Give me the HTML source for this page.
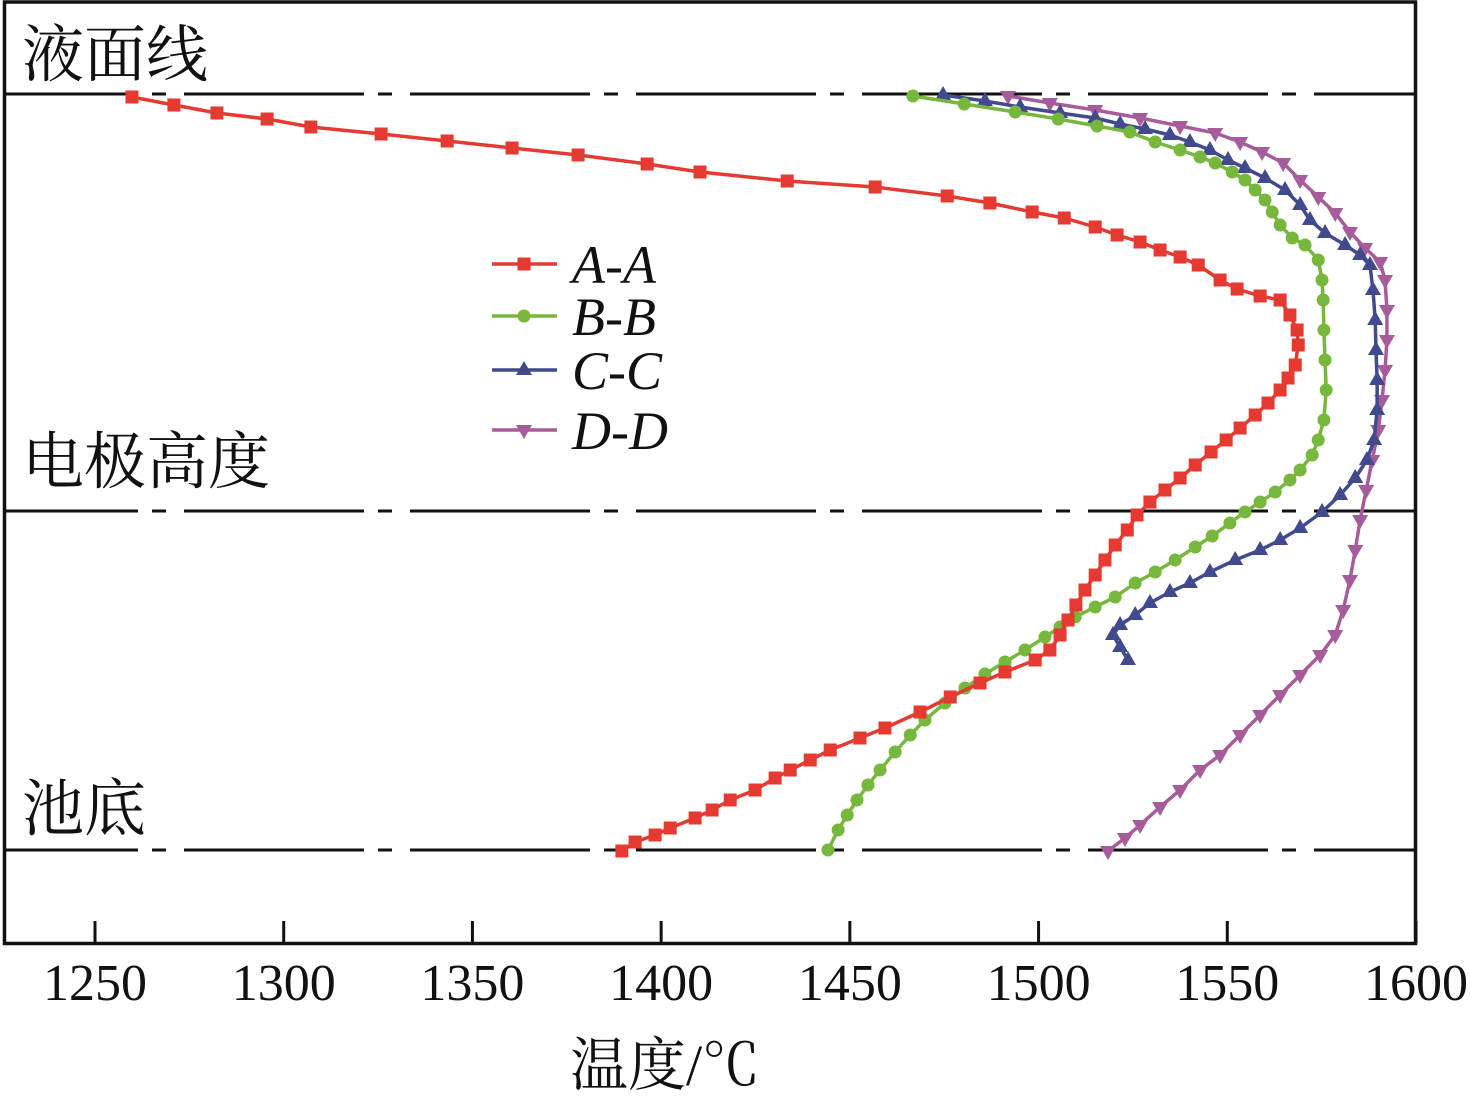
<!DOCTYPE html>
<html><head><meta charset="utf-8">
<style>
html,body{margin:0;padding:0;background:#fff;}
svg{display:block;}
</style></head>
<body>
<svg id="chart" width="1470" height="1101" viewBox="0 0 1470 1101" xmlns="http://www.w3.org/2000/svg">
<g id="grid"></g>
<rect x="4.5" y="2" width="1411" height="941.5" fill="none" stroke="#111" stroke-width="3.5"/>
<g id="ticks"></g>
<g id="series"></g>
<text font-family="'Liberation Serif','Noto Serif CJK SC',serif" fill="#111" x="22" y="76" font-size="62">液面线</text>
<text font-family="'Liberation Serif','Noto Serif CJK SC',serif" fill="#111" x="22" y="483" font-size="62">电极高度</text>
<text font-family="'Liberation Serif','Noto Serif CJK SC',serif" fill="#111" x="22" y="830" font-size="62">池底</text>
<text font-family="'Liberation Serif','Noto Serif CJK SC',serif" fill="#111" x="665" y="1085" font-size="58" text-anchor="middle">温度/℃</text>
<g id="legend"></g>
</svg>
<script>
const xTicks = [1250,1300,1350,1400,1450,1500,1550,1600];
const refDepths = [0,417,756];
const seriesNames = ['A-A','B-B','C-C','D-D'];
const seriesColors = ['#e53a31','#76b73c','#414a8c','#a65b9a'];
const seriesMarkers = ['square','circle','tri-up','tri-down'];

const aaTemp = [1259.8,1270.9,1282.3,1295.6,1307.2,1325.8,1343.3,1360.5,1378,1396.3,1410.3,1433.4,1456.7,1475.8,1487.1,1498.3,1506.8,1515,1520.8,1526.9,1532.2,1537.5,1542.3,1548.1,1552.6,1558.7,1564,1566.6,1568.5,1568.8,1568,1566.1,1564,1560.8,1557.4,1553.4,1549.7,1545.7,1541.5,1537.5,1533.5,1529.5,1526.1,1523.5,1520.3,1517.6,1515,1512.3,1509.9,1507.8,1505.7,1503,1499.1,1491.1,1484.5,1476.6,1468.6,1459.3,1452.7,1444.8,1439.5,1434.2,1430.2,1424.9,1418.3,1413.5,1409,1402.4,1398.4,1393.1,1389.6];
const aaDepth = [3,11,19,25,33,40,47,54,61,70,78,87,93,102,109,118,124,133,141,148,156,163,171,186,195,202,206,221,236,251,271,284,296,309,321,334,346,358,371,384,396,408,421,436,451,466,481,496,511,526,541,556,566,578,589,603,618,634,644,656,666,676,684,696,706,716,724,734,741,748,757];

const bbTemp = [1466.7,1480.3,1493.8,1505.2,1515.5,1524.2,1530.9,1537.5,1542.8,1546.8,1551.3,1554.7,1557.4,1560,1561.9,1564,1567.2,1570.6,1574.1,1575.1,1575.4,1575.6,1575.9,1576.2,1575.6,1574.1,1572.5,1569.3,1566.6,1562.7,1558.7,1554.7,1550.7,1546,1541.5,1536.2,1530.9,1525.6,1520.3,1515,1509.7,1505.7,1501.7,1496.4,1491.1,1485.8,1480.5,1475.2,1469.9,1466,1462,1458,1454.8,1451.9,1449.3,1446.9,1444.2];
const bbDepth = [2,10,18,25,32,38,48,56,63,69,78,86,96,106,118,131,144,151,166,186,206,236,266,296,326,346,361,376,386,398,408,418,429,442,453,466,478,489,503,513,523,533,543,556,568,580,594,609,626,641,658,676,691,706,721,736,756];

const ccTemp = [1474.7,1485.8,1495.1,1505.7,1515,1521.6,1528.2,1534.8,1540.1,1545.4,1550.2,1554.7,1560,1565.3,1569.3,1571.9,1575.9,1581.2,1585.2,1587.8,1588.6,1589.2,1589.4,1589.7,1589.7,1588.9,1587,1583.9,1579.9,1575.1,1569.3,1564,1558.7,1552.1,1545.4,1540.1,1534.8,1529.5,1525.6,1521.6,1519.7,1521.6,1523.7];
const ccDepth = [1,7,13,19,24,30,35,41,48,56,66,74,84,96,111,126,139,151,161,171,196,226,256,286,316,346,366,384,401,418,434,446,456,466,478,489,498,509,521,531,541,553,566];

const ddTemp = [1491.9,1503,1515,1526.9,1537.5,1546.8,1553.4,1559.2,1564.8,1569.3,1574.1,1578.6,1582.5,1586.5,1590.5,1591.8,1592.3,1592.3,1591.8,1591,1590,1588.4,1586.8,1585.2,1583.9,1582.5,1580.7,1578.6,1574.6,1569.3,1564,1558.7,1553.4,1548.1,1542.8,1537.5,1532.2,1526.9,1522.9,1518.4];
const ddDepth = [2,9,16,24,32,39,48,58,69,86,103,119,138,154,168,186,216,246,276,306,336,366,396,426,456,486,516,541,561,581,601,621,641,661,676,696,713,731,744,757];

const NS='http://www.w3.org/2000/svg';
const SERIF="'Liberation Serif','Times New Roman',serif";
const xS = t => 95 + (t-1250)*(1416-95)/350;
const yS = d => 94 + d;
function mk(tag, attrs, parent){const e=document.createElementNS(NS,tag);for(const k in attrs)e.setAttribute(k,attrs[k]);parent.appendChild(e);return e;}

const grid=document.getElementById('grid');
const refNames=['liquid-level-line','electrode-height-line','pool-bottom-line'];
refDepths.forEach((d,i)=>{
  const l=mk('line',{x1:4,x2:1416,y1:yS(d),y2:yS(d),stroke:'#111','stroke-width':3,'stroke-dasharray':'180 14 14 18','stroke-dashoffset':46},grid);
  
  
});

const tg=document.getElementById('ticks');
xTicks.forEach(t=>{
  const l=mk('line',{x1:xS(t),x2:xS(t),y1:943,y2:921,stroke:'#111','stroke-width':3},tg);
  
  
  const tx=mk('text',{x:xS(t),y:1000,'text-anchor':'middle','font-family':SERIF,'font-size':52,fill:'#111'},tg);
  tx.textContent=t;
  
  
});

function marker(kind,x,y,color,parent){
  let e;
  if(kind==='square') e=mk('rect',{x:x-6.5,y:y-6.5,width:13,height:13,fill:color},parent);
  else if(kind==='circle') e=mk('circle',{cx:x,cy:y,r:6.5,fill:color},parent);
  else if(kind==='tri-up') e=mk('polygon',{points:`${x},${y-9} ${x+8},${y+5} ${x-8},${y+5}`,fill:color},parent);
  else e=mk('polygon',{points:`${x},${y+9} ${x+8},${y-5} ${x-8},${y-5}`,fill:color},parent);
  return e;
}

const sg=document.getElementById('series');
const allT=[aaTemp,bbTemp,ccTemp,ddTemp], allD=[aaDepth,bbDepth,ccDepth,ddDepth];
[3,2,1,0].forEach(i=>{
  const g=mk('g',{},sg);
  
  
  const pts=allT[i].map((t,j)=>xS(t)+','+yS(allD[i][j])).join(' ');
  const pl=mk('polyline',{points:pts,fill:'none',stroke:seriesColors[i],'stroke-width':3.5,'stroke-linejoin':'round'},g);
  
  
  allT[i].forEach((t,j)=>{
    const m=marker(seriesMarkers[i],xS(t),yS(allD[i][j]),seriesColors[i],g);
    
    
  });
});

const lg=document.getElementById('legend');
const legY=[264,316,370,430];
seriesNames.forEach((n,i)=>{
  const g=mk('g',{},lg);
  
  
  mk('line',{x1:492,x2:557,y1:legY[i],y2:legY[i],stroke:seriesColors[i],'stroke-width':3.5},g);
  marker(seriesMarkers[i],524,legY[i],seriesColors[i],g);
  const t=mk('text',{x:572,y:legY[i]+19,'font-family':SERIF,'font-style':'italic','font-size':54,fill:'#111'},g);
  t.textContent=n;
});
</script>
</body></html>
